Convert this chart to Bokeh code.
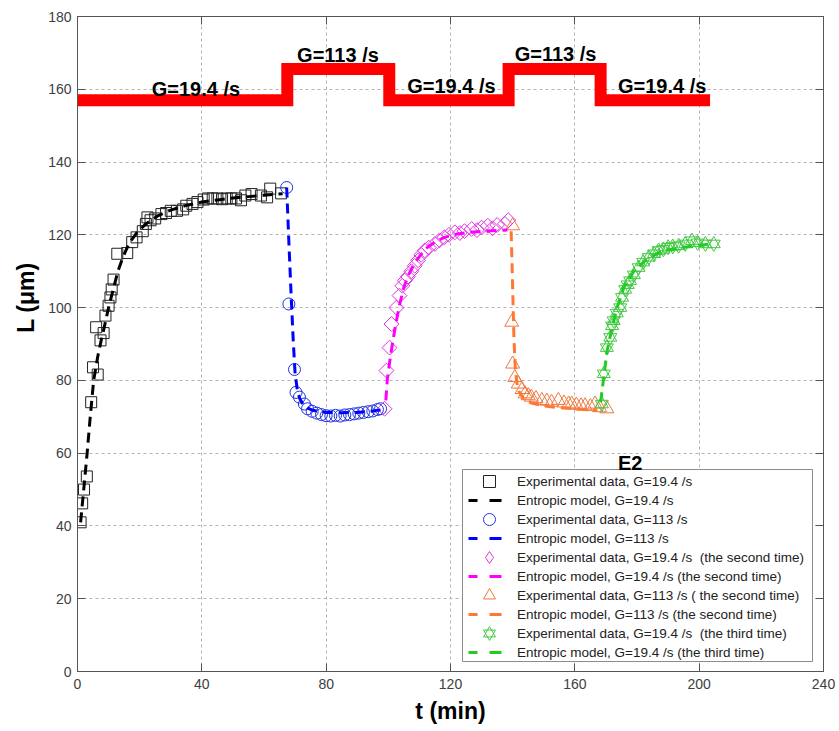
import math
from bokeh.plotting import figure
from bokeh.models import (Legend, LegendItem, LinearAxis, FixedTicker, Label, Range1d,
                          BoxAnnotation, Title)
from bokeh.core.properties import value
from bokeh.embed import file_html
from bokeh.resources import INLINE

# ---------------- data ----------------
x_ticks = [0, 40, 80, 120, 160, 200, 240]
y_ticks = [0, 20, 40, 60, 80, 100, 120, 140, 160, 180]

# shear-rate step indicator
step_t = [0, 67.5, 100.3, 138.7, 168.3, 203.5]
step_L = [157, 165.6, 157, 165.6, 157, 157]
step_label_t = [38.1, 83.8, 120.3, 153.8, 188.1]
step_label_L = [160.1, 169.3, 161.0, 169.6, 161.0]
step_label_txt = ["G=19.4 /s", "G=113 /s", "G=19.4 /s", "G=113 /s", "G=19.4 /s"]

# experimental data
sq_t = [1, 1.5, 2.1, 3, 4.4, 5, 6, 6.5, 7.4, 8.4, 9, 10, 10.6, 11, 11.6, 12.8, 16, 17.6,
        19, 21, 22, 22.5, 23.5, 25, 27, 28.5, 30, 32, 34, 35, 37, 38.6, 40.6, 42, 43.5,
        45, 46.5, 48, 49.5, 51, 52.6, 54, 56, 59, 61, 62, 65.5]
sq_L = [41, 46.2, 50, 53.6, 74, 83.6, 94.6, 81.6, 91, 93, 97.8, 100.5, 102.8, 105, 107.7,
        114.8, 115, 118, 119.3, 121, 123, 124.8, 124, 124.5, 125.7, 126, 126.6, 126.6,
        127, 128, 128.5, 129, 129.7, 130, 130, 130, 129.8, 130, 130, 130, 129.5, 130.8,
        131.2, 130.8, 130.3, 132.7, 131.4]

ci_t = [67.3, 68, 69.8, 70.3, 71.4, 73, 74, 75.5, 77, 78.5, 80, 81.5, 83, 84.5, 86, 87.5,
        89, 90.5, 92, 93.5, 95, 96.5, 97.5]
ci_L = [133, 101, 83, 76.7, 75.4, 73.5, 72.2, 71.5, 71, 70.6, 70.3, 70.2, 70.4, 70.2,
        70.5, 70.6, 70.8, 71, 71.2, 71.4, 71.6, 72, 72.2]

di_t = [98.8, 99.4, 100.4, 101, 102.6, 103.6, 104.5, 105.3, 106.3, 107.4, 108.5, 109.6,
        110.6, 111.7, 113, 115, 116.5, 118, 119.5, 121.4, 123, 124.5, 126.8, 128.5, 130,
        132, 133.5, 135, 137.5, 138.6]
di_L = [72.2, 82.7, 89, 95.5, 100, 103.3, 106, 107.4, 108.5, 110, 111.5, 113, 114.5,
        115.7, 116.5, 117.5, 118.5, 119.3, 120, 120.7, 120.5, 121, 121.6, 121.3, 122,
        122.5, 121.8, 122.7, 123, 124]

tr_t = [140, 139.7, 140, 140.7, 141.8, 143, 144, 145, 146, 147.5, 149.4, 151, 152.5,
        154.7, 156.5, 158, 159, 160.5, 162, 163.3, 165, 166.5, 168, 170.3]
tr_L = [122.5, 96, 84.5, 80.8, 79, 77.5, 76.3, 75.8, 75.4, 75, 74.5, 74.3, 74, 74.5,
        73.8, 73.5, 73.5, 73.2, 73, 73, 72.8, 73.5, 72.5, 72.2]

st_t = [168.7, 169.3, 170.3, 171.4, 172, 172.5, 173.5, 174.6, 175.2, 176.2, 177, 177.8,
        179, 180.5, 182, 183.8, 185.5, 187, 188.5, 190, 191.5, 193.4, 195.5, 197.7,
        199.5, 202, 204.7]
st_L = [73.5, 81.8, 89, 91.8, 95, 96.4, 98.5, 100, 102.8, 105, 106.3, 107.4, 109, 111,
        112.5, 113.8, 114.8, 115.7, 116, 116.6, 116.8, 117, 117.5, 118.4, 117.8, 117.5,
        117.5]

# entropic model curves
m1_t = [1, 2, 3.1, 4.1, 5.2, 6.5, 7.5, 8.7, 10, 11.5, 13, 14.7, 16.5, 19, 22, 26, 30, 35,
        40, 45, 50, 55, 60, 66]
m1_L = [41, 50, 60, 70, 80, 86.5, 90.5, 95, 100, 105, 110, 114, 117.5, 120.5, 123, 125.3,
        126.8, 128.1, 129, 129.6, 130.1, 130.5, 130.9, 131.3]
m2_t = [67.3, 68, 68.7, 69.4, 70, 70.7, 71.5, 72.5, 74, 76, 80, 85, 90, 94, 97.5]
m2_L = [133, 118, 104, 91, 82, 77.5, 75, 73.5, 72.4, 71.7, 71.2, 71.1, 71.2, 71.5, 71.9]
m3_t = [99.2, 99.7, 100.5, 101.3, 102.3, 103.4, 105, 106.5, 108.3, 110.5, 112.6, 115, 118,
        122, 126.5, 131, 135, 138.3]
m3_L = [74.5, 80.5, 85.5, 90, 95, 100, 105.6, 109, 112, 114.6, 116.6, 118, 119.3, 120.2,
        120.7, 121, 121.2, 121.3]
m4_t = [139.5, 139.8, 140.1, 140.4, 140.8, 141.3, 142, 143.5, 146, 150, 155, 160, 167]
m4_L = [121, 112, 102, 92, 84, 79.5, 77, 75, 73.8, 73, 72.5, 72.2, 71.8]
m5_t = [168.3, 169.3, 170.4, 172, 173.6, 175.8, 179, 183.3, 188.6, 195, 203.7]
m5_L = [74, 80.9, 88.2, 94.6, 100, 105.6, 110, 113.4, 115.7, 116.6, 117.5]

legend_data_labels = [
    "Experimental data, G=19.4 /s",
    "Experimental data, G=113 /s",
    "Experimental data, G=19.4 /s  (the second time)",
    "Experimental data, G=113 /s ( the second time)",
    "Experimental data, G=19.4 /s  (the third time)",
]
legend_model_labels = [
    "Entropic model, G=19.4 /s",
    "Entropic model, G=113 /s",
    "Entropic model, G=19.4 /s (the second time)",
    "Entropic model, G=113 /s (the second time)",
    "Entropic model, G=19.4 /s (the third time)",
]

# ---------------- styling ----------------
FONT = "Liberation Sans"
C_BLACK, C_BLUE, C_MAG, C_ORG, C_GRN = "#000000", "#0000ff", "#ff00ff", "#ff7733", "#22cc22"
MK_BLACK, MK_BLUE, MK_MAG, MK_ORG, MK_GRN = "#222222", "#2233dd", "#e033e0", "#f07840", "#44c844"
AX = "#555555"

p = figure(width=839, height=731, x_range=Range1d(0, 240), y_range=Range1d(0, 180),
           output_backend="svg", toolbar_location=None,
           min_border_left=77, min_border_right=16, min_border_top=16, min_border_bottom=60)
p.background_fill_color = "white"
p.border_fill_color = "white"
p.outline_line_color = AX
p.outline_line_width = 1

for ax, ticks in ((p.xaxis[0], x_ticks), (p.yaxis[0], y_ticks)):
    ax.ticker = FixedTicker(ticks=ticks)
    ax.major_tick_in = 8
    ax.major_tick_out = 0
    ax.minor_tick_line_color = None
    ax.axis_line_color = AX
    ax.major_tick_line_color = AX
    ax.major_label_text_font = FONT
    ax.major_label_text_font_size = "14px"
    ax.major_label_text_color = "#404040"
p.xaxis.major_label_standoff = 7
p.yaxis.major_label_standoff = 6
p.xaxis.axis_label = "t (min)"
p.xaxis.axis_label_text_font = FONT
p.xaxis.axis_label_text_font_size = "23px"
p.xaxis.axis_label_text_font_style = "bold"
p.xaxis.axis_label_text_color = "black"
p.xaxis.axis_label_standoff = 6

for loc, ticks in (("right", y_ticks), ("above", x_ticks)):
    ax = LinearAxis(ticker=FixedTicker(ticks=ticks), major_tick_in=8, major_tick_out=0,
                    minor_tick_line_color=None, axis_line_color=AX,
                    major_tick_line_color=AX, major_label_text_color=None,
                    major_label_text_font_size="1px", major_label_standoff=0)
    p.add_layout(ax, loc)

# y-axis title (placed as a left-side title so it can sit above the centre)
p.add_layout(Title(text="L (μm)", align="right", offset=246, standoff=14,
                   text_font=FONT, text_font_size="23px", text_font_style="bold",
                   text_color="black"), "left")

p.xgrid.ticker = FixedTicker(ticks=x_ticks)
p.ygrid.ticker = FixedTicker(ticks=y_ticks)
for g in (p.xgrid[0], p.ygrid[0]):
    g.grid_line_color = "#b5b5b5"
    g.grid_line_dash = "3 3"
    g.grid_line_width = 1

# step indicator
p.step(step_t, step_L, mode="after", line_color="#ff0000", line_width=12,
       line_join="miter", line_cap="butt")
p.text(x=step_label_t, y=step_label_L, text=step_label_txt, text_font=value(FONT),
       text_font_style="bold", text_font_size="20px", text_align="center",
       text_baseline="alphabetic", text_color="black")

# experimental markers
p.scatter(sq_t, sq_L, marker="square", size=11, fill_color=None, line_color=MK_BLACK, line_width=1)
p.scatter(ci_t, ci_L, marker="circle", size=12, fill_color=None, line_color=MK_BLUE, line_width=1)
p.scatter(di_t, di_L, marker="square", angle=math.pi / 4, size=10.5, fill_color=None,
          line_color=MK_MAG, line_width=1)
p.scatter(tr_t, tr_L, marker="triangle", size=14, fill_color=None, line_color=MK_ORG, line_width=1)
p.scatter(st_t, st_L, marker="triangle", size=13, fill_color=None, line_color=MK_GRN, line_width=1)
p.scatter(st_t, st_L, marker="inverted_triangle", size=13, fill_color=None, line_color=MK_GRN, line_width=1)

# model lines
DASH = "10 6"
models = [(m1_t, m1_L, C_BLACK), (m2_t, m2_L, C_BLUE), (m3_t, m3_L, C_MAG),
          (m4_t, m4_L, C_ORG), (m5_t, m5_L, C_GRN)]
for mt, mL, col in models:
    p.line(mt, mL, line_color=col, line_width=3, line_dash=DASH)

# hidden duplicates used only for the legend symbols
def hid_scatter(xs, ys, marker, color):
    return p.scatter(xs, ys, marker=marker, fill_color=None, line_color=color,
                     line_width=1, visible=False)

marker_proxies = [
    [hid_scatter(sq_t, sq_L, "square", MK_BLACK)],
    [hid_scatter(ci_t, ci_L, "circle", MK_BLUE)],
    [hid_scatter(di_t, di_L, "diamond", MK_MAG)],
    [hid_scatter(tr_t, tr_L, "triangle", MK_ORG)],
    [hid_scatter(st_t, st_L, "triangle", MK_GRN), hid_scatter(st_t, st_L, "inverted_triangle", MK_GRN)],
]
line_proxies = [[p.line(mt, mL, line_color=col, line_width=3, line_dash="9 12 12 100",
                        visible=False)] for mt, mL, col in models]

# legend frame
p.add_layout(BoxAnnotation(left=385, right=735, bottom=10, top=202, left_units="screen",
                           right_units="screen", bottom_units="screen", top_units="screen",
                           fill_color="white", fill_alpha=1.0, line_color="#8c8c8c",
                           line_width=1, line_alpha=1.0))

common = dict(glyph_width=42, glyph_height=30, label_height=30, spacing=8, padding=0,
              margin=0, label_standoff=7, label_text_font=FONT, label_text_font_size="13.5px",
              label_text_color="#222222", border_line_color=None, background_fill_alpha=0.0)
legA = Legend(items=[LegendItem(label=l, renderers=r) for l, r in zip(legend_data_labels, marker_proxies)],
              location=(391, 23), **common)
legB = Legend(items=[LegendItem(label=l, renderers=r) for l, r in zip(legend_model_labels, line_proxies)],
              location=(391, 4), **common)
p.add_layout(legA)
p.add_layout(legB)

# annotation
p.add_layout(Label(x=177.8, y=57.2, text="E2", text_font=FONT, text_font_style="bold",
                   text_font_size="20px", text_align="center", text_baseline="alphabetic",
                   text_color="black"))

open("out.html", "w").write(file_html(p, INLINE))
